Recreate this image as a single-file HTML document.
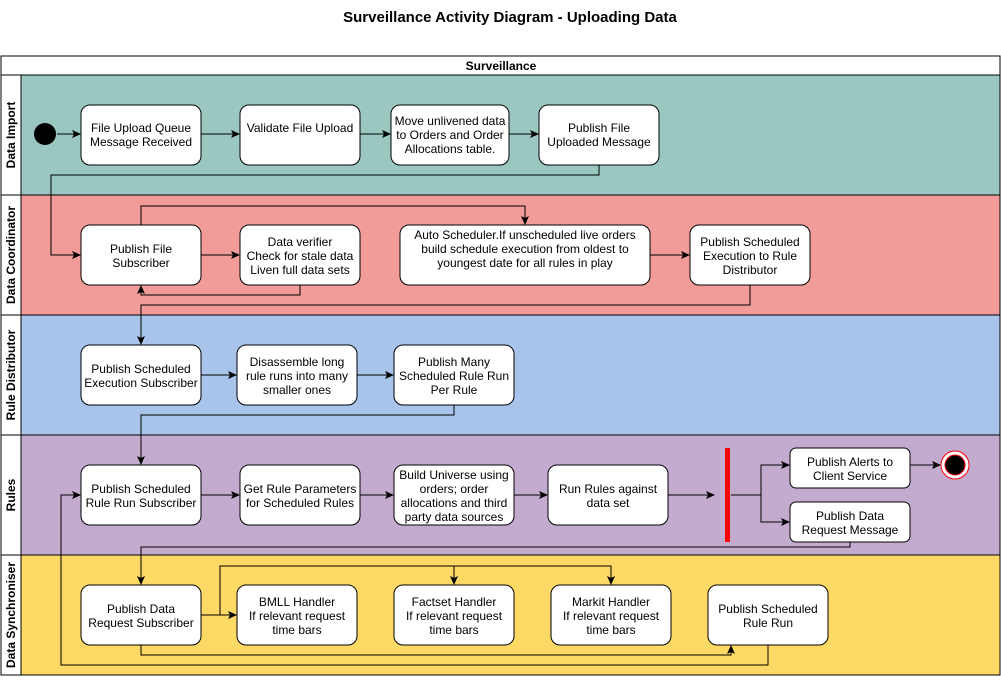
<!DOCTYPE html>
<html><head><meta charset="utf-8"><style>
html,body{margin:0;padding:0;background:#fff;}
svg text{font-family:"Liberation Sans",Arial,sans-serif;font-size:12px;fill:#000;}
</style></head><body>
<svg width="1001" height="676" viewBox="0 0 1001 676" xmlns="http://www.w3.org/2000/svg">
<defs>
<marker id="a" markerWidth="10" markerHeight="10" refX="8" refY="5" orient="auto" markerUnits="userSpaceOnUse">
<path d="M0,1 L9,5 L0,9 L2,5 Z" fill="#000"/>
</marker>
</defs>
<text x="510" y="22" text-anchor="middle" style="font-size:15px;font-weight:bold">Surveillance Activity Diagram - Uploading Data</text>
<rect x="1" y="56" width="999" height="619" fill="#fff" stroke="#000"/>
<line x1="1" y1="75" x2="1000" y2="75" stroke="#000"/>
<text x="501" y="70" text-anchor="middle" style="font-weight:bold">Surveillance</text>
<rect x="21" y="75" width="979" height="120" fill="#9AC7BF" stroke="#000"/>
<rect x="21" y="195" width="979" height="120" fill="#F19C99" stroke="#000"/>
<rect x="21" y="315" width="979" height="120" fill="#A9C4EB" stroke="#000"/>
<rect x="21" y="435" width="979" height="120" fill="#C3ABD0" stroke="#000"/>
<rect x="21" y="555" width="979" height="120" fill="#FFD966" stroke="#000"/>
<line x1="1" y1="195" x2="21" y2="195" stroke="#000"/>
<line x1="1" y1="315" x2="21" y2="315" stroke="#000"/>
<line x1="1" y1="435" x2="21" y2="435" stroke="#000"/>
<line x1="1" y1="555" x2="21" y2="555" stroke="#000"/>
<g style="font-weight:bold" text-anchor="middle">
<text transform="translate(15,135) rotate(-90)" style="font-weight:bold">Data Import</text>
<text transform="translate(15,255) rotate(-90)" style="font-weight:bold">Data Coordinator</text>
<text transform="translate(15,375) rotate(-90)" style="font-weight:bold">Rule Distributor</text>
<text transform="translate(15,495) rotate(-90)" style="font-weight:bold">Rules</text>
<text transform="translate(15,615) rotate(-90)" style="font-weight:bold">Data Synchroniser</text>
</g>
<g fill="#fff" stroke="#000">
<rect x="81" y="105" width="120" height="60" rx="9"/>
<rect x="240" y="105" width="120" height="60" rx="9"/>
<rect x="391" y="105" width="118" height="60" rx="9"/>
<rect x="539" y="105" width="120" height="60" rx="9"/>
<rect x="81" y="225" width="120" height="60" rx="9"/>
<rect x="240" y="225" width="120" height="60" rx="9"/>
<rect x="400" y="225" width="250" height="60" rx="9"/>
<rect x="690" y="225" width="120" height="60" rx="9"/>
<rect x="81" y="345" width="120" height="60" rx="9"/>
<rect x="237" y="345" width="120" height="60" rx="9"/>
<rect x="394" y="345" width="120" height="60" rx="9"/>
<rect x="81" y="465" width="120" height="60" rx="9"/>
<rect x="240" y="465" width="120" height="60" rx="9"/>
<rect x="394" y="465" width="120" height="60" rx="9"/>
<rect x="548" y="465" width="120" height="60" rx="9"/>
<rect x="790" y="448" width="120" height="40" rx="6"/>
<rect x="790" y="502" width="120" height="40" rx="6"/>
<rect x="81" y="585" width="120" height="60" rx="9"/>
<rect x="237" y="585" width="120" height="60" rx="9"/>
<rect x="394" y="585" width="120" height="60" rx="9"/>
<rect x="551" y="585" width="120" height="60" rx="9"/>
<rect x="708" y="585" width="120" height="60" rx="9"/>
</g>
<circle cx="45" cy="134" r="11" fill="#000"/>
<circle cx="955" cy="465" r="14" fill="#fff" stroke="#f00"/>
<circle cx="955" cy="465" r="10" fill="#000" stroke="#f00"/>
<rect x="725" y="448" width="5" height="94" fill="#f00"/>
<g fill="none" stroke="#000" marker-end="url(#a)">
<line x1="57" y1="134" x2="80" y2="134"/>
<line x1="201" y1="134" x2="239" y2="134"/>
<line x1="360" y1="134" x2="390" y2="134"/>
<line x1="509" y1="134" x2="538" y2="134"/>
<polyline points="599,165 599,175 51,175 51,255 80,255"/>
<line x1="201" y1="255" x2="239" y2="255"/>
<line x1="650" y1="255" x2="689" y2="255"/>
<polyline points="141,225 141,206 525,206 525,224"/>
<polyline points="300,285 300,295 141,295 141,286"/>
<polyline points="750,285 750,305 141,305 141,344"/>
<line x1="201" y1="375" x2="236" y2="375"/>
<line x1="357" y1="375" x2="393" y2="375"/>
<polyline points="454,405 454,415 141,415 141,464"/>
<line x1="201" y1="495" x2="239" y2="495"/>
<line x1="360" y1="495" x2="393" y2="495"/>
<line x1="514" y1="495" x2="547" y2="495"/>
<line x1="668" y1="495" x2="714" y2="495"/>
<polyline points="731,495 761,495 761,465 789,465"/>
<polyline points="761,495 761,522 789,522"/>
<line x1="910" y1="465" x2="940" y2="465"/>
<polyline points="850,542 850,547 141,547 141,584"/>
<line x1="201" y1="615" x2="236" y2="615"/>
<polyline points="220,615 220,566 454,566 454,584"/>
<polyline points="454,566 611,566 611,584"/>
<polyline points="141,645 141,655 731,655 731,646"/>
<polyline points="768,645 768,665 61,665 61,495 80,495"/>
</g>
<g text-anchor="middle">
<text x="141" y="132">File Upload Queue</text><text x="141" y="146">Message Received</text>
<text x="300" y="132">Validate File Upload</text>
<text x="450" y="125">Move unlivened data</text><text x="450" y="139">to Orders and Order</text><text x="450" y="153">Allocations table.</text>
<text x="599" y="132">Publish File</text><text x="599" y="146">Uploaded Message</text>
<text x="141" y="253">Publish File</text><text x="141" y="267">Subscriber</text>
<text x="300" y="246">Data verifier</text><text x="300" y="260">Check for stale data</text><text x="300" y="274">Liven full data sets</text>
<text x="525" y="239">Auto Scheduler.If unscheduled live orders</text><text x="525" y="253">build schedule execution from oldest to</text><text x="525" y="267">youngest date for all rules in play</text>
<text x="750" y="246">Publish Scheduled</text><text x="750" y="260">Execution to Rule</text><text x="750" y="274">Distributor</text>
<text x="141" y="373">Publish Scheduled</text><text x="141" y="387">Execution Subscriber</text>
<text x="297" y="366">Disassemble long</text><text x="297" y="380">rule runs into many</text><text x="297" y="394">smaller ones</text>
<text x="454" y="366">Publish Many</text><text x="454" y="380">Scheduled Rule Run</text><text x="454" y="394">Per Rule</text>
<text x="141" y="493">Publish Scheduled</text><text x="141" y="507">Rule Run Subscriber</text>
<text x="300" y="493">Get Rule Parameters</text><text x="300" y="507">for Scheduled Rules</text>
<text x="454" y="479">Build Universe using</text><text x="454" y="493">orders; order</text><text x="454" y="507">allocations and third</text><text x="454" y="521">party data sources</text>
<text x="608" y="493">Run Rules against</text><text x="608" y="507">data set</text>
<text x="850" y="466">Publish Alerts to</text><text x="850" y="480">Client Service</text>
<text x="850" y="520">Publish Data</text><text x="850" y="534">Request Message</text>
<text x="141" y="613">Publish Data</text><text x="141" y="627">Request Subscriber</text>
<text x="297" y="606">BMLL Handler</text><text x="297" y="620">If relevant request</text><text x="297" y="634">time bars</text>
<text x="454" y="606">Factset Handler</text><text x="454" y="620">If relevant request</text><text x="454" y="634">time bars</text>
<text x="611" y="606">Markit Handler</text><text x="611" y="620">If relevant request</text><text x="611" y="634">time bars</text>
<text x="768" y="613">Publish Scheduled</text><text x="768" y="627">Rule Run</text>
</g>
</svg>
</body></html>
